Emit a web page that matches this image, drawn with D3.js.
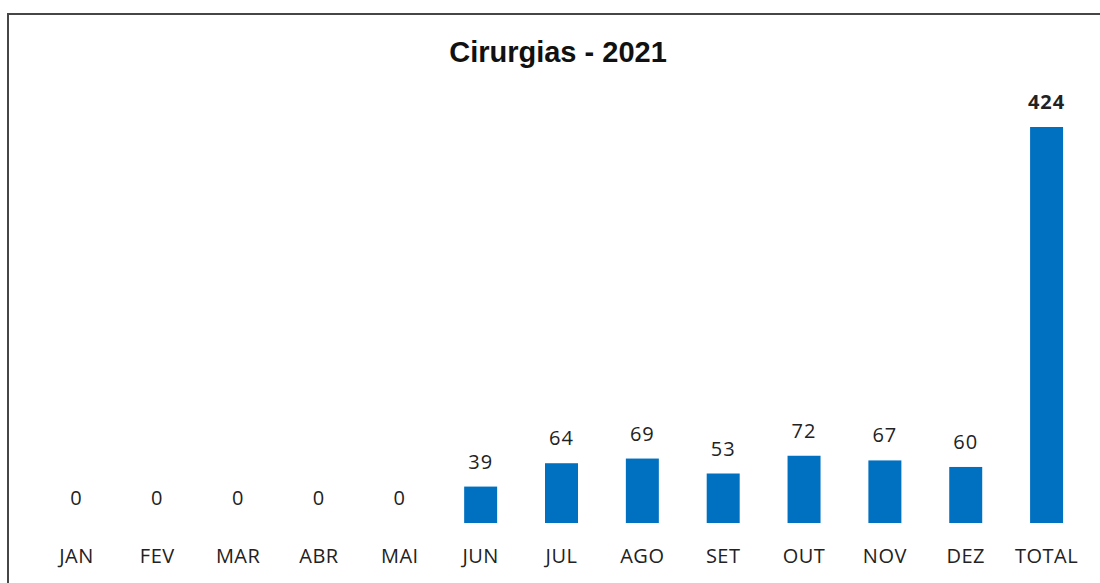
<!DOCTYPE html>
<html>
<head>
<meta charset="utf-8">
<script src="https://cdn.jsdelivr.net/npm/d3@7"></script>
<style>
  body { margin: 0; background: #fff; }
  svg { display: block; }
</style>
</head>
<body>
<div id="chart"></div>
<script>
// dados
var months = ["JAN", "FEV", "MAR", "ABR", "MAI", "JUN", "JUL", "AGO", "SET", "OUT", "NOV", "DEZ", "TOTAL"]
var cirurgias = [0, 0, 0, 0, 0, 39, 64, 69, 53, 72, 67, 60, 424]
var title = "Cirurgias - 2021"

var width = 1100, height = 583

var svg = d3.select("#chart").append("svg")
    .attr("width", width)
    .attr("height", height)

// moldura (continua para fora da imagem à direita e em baixo)
svg.append("rect")
    .attr("x", 8)
    .attr("y", 14)
    .attr("width", 1200)
    .attr("height", 700)
    .attr("fill", "none")
    .attr("stroke", "#464646")
    .attr("stroke-width", 2)

svg.append("text")
    .attr("x", 558)
    .attr("y", 62)
    .attr("text-anchor", "middle")
    .style("font-family", "'Liberation Sans', Arial, sans-serif")
    .style("font-weight", "bold")
    .style("font-size", "29px")
    .attr("fill", "#111")
    .text(title)

var x = d3.scaleBand()
    .domain(months)
    .range([36, 1087])
    .paddingInner(0.592)
    .paddingOuter(0.296)

var y = d3.scaleLinear()
    .domain([0, d3.max(cirurgias)])
    .range([523, 127])

var data = months.map((m, i) => ({ month: m, value: cirurgias[i] }))

svg.append("g").selectAll("rect")
    .data(data)
    .enter()
    .append("rect")
    .attr("x", d => x(d.month))
    .attr("y", d => y(d.value))
    .attr("width", x.bandwidth())
    .attr("height", d => y(0) - y(d.value))
    .attr("fill", "#0070C0")

svg.append("g").selectAll("text")
    .data(data)
    .enter()
    .append("text")
    .attr("x", d => x(d.month) + x.bandwidth() / 2)
    .attr("y", d => y(d.value) - 18)
    .attr("text-anchor", "middle")
    .style("font-family", "'Open Sans', sans-serif")
    .style("font-size", "20px")
    .style("font-weight", d => d.month == "TOTAL" ? "bold" : "normal")
    .style("letter-spacing", "1px")
    .attr("fill", "#222")
    .text(d => d.value)

// eixo x sem linha, só os rótulos
var xAxis = svg.append("g")
    .attr("transform", "translate(0,523)")
    .call(d3.axisBottom(x).tickSize(0).tickPadding(26))

xAxis.select(".domain").remove()
xAxis.selectAll("text")
    .style("font-family", "'Open Sans', sans-serif")
    .style("font-size", "20px")
    .style("letter-spacing", "0.5px")
    .attr("fill", "#222")
</script>
</body>
</html>
